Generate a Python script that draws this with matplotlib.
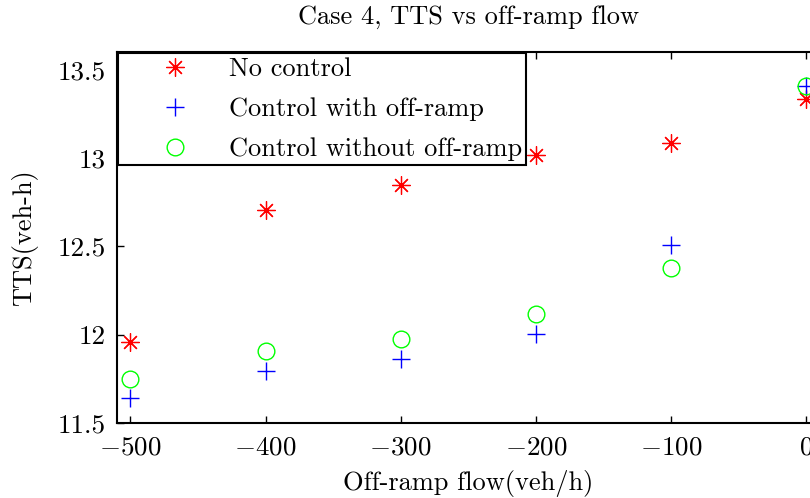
import matplotlib
matplotlib.use("Agg")
import matplotlib.pyplot as plt

# Off-ramp flow (veh/h) and total time spent (veh-h)
flow = [-500, -400, -300, -200, -100, 0]
tts_no_control = [11.958, 12.706, 12.848, 13.015, 13.085, 13.335]
tts_ctrl_offramp = [11.640, 11.795, 11.862, 12.005, 12.510, 13.405]
tts_ctrl_no_offramp = [11.748, 11.909, 11.975, 12.118, 12.379, 13.405]

series_labels = ["No control", "Control with off-ramp", "Control without off-ramp"]
xticks = [-500, -400, -300, -200, -100, 0]
yticks = [11.5, 12, 12.5, 13, 13.5]
ytick_labels = ["11.5", "12", "12.5", "13", "13.5"]

plt.rcParams["font.family"] = ["cmr10"]
plt.rcParams["mathtext.fontset"] = "cm"
plt.rcParams["axes.formatter.use_mathtext"] = True

fig = plt.figure(figsize=(8.1, 4.98), dpi=100)
ax = fig.add_axes([0.1444, 0.1506, 0.8673, 0.7450])

ax.plot(flow, tts_no_control, linestyle="none", marker=(8, 2, 0),
        markersize=13, markeredgewidth=0.9, color="#ff0000", label=series_labels[0])
ax.plot(flow, tts_ctrl_offramp, linestyle="none", marker="+",
        markersize=13, markeredgewidth=1.0, color="#0000ff", label=series_labels[1])
ax.plot(flow, tts_ctrl_no_offramp, linestyle="none", marker="o",
        markersize=12, markeredgewidth=1.0, markerfacecolor="none",
        markeredgecolor="#00ff00", color="#00ff00", label=series_labels[2])

ax.set_xlim(-510, 10)
ax.set_ylim(11.5, 13.6)
ax.set_xticks(xticks)
ax.set_xticklabels([r"$-%d$" % (-v) if v < 0 else r"$%d$" % v for v in xticks])
ax.set_yticks(yticks)
ax.set_yticklabels(ytick_labels)

ax.tick_params(direction="in", length=5, width=1.0, top=True, right=True,
               labelsize=19.5)
ax.tick_params(axis="x", pad=9)
ax.tick_params(axis="y", pad=8)
for s in ax.spines.values():
    s.set_linewidth(1.5)

ax.set_title("Case 4, TTS vs off-ramp flow", fontsize=19, pad=20)
ax.set_xlabel("Off-ramp flow(veh/h)", fontsize=19, labelpad=8)
ax.set_ylabel("TTS(veh-h)", fontsize=19, labelpad=14)

leg = ax.legend(loc="upper left", fontsize=19, frameon=True, fancybox=False,
                edgecolor="black", framealpha=1.0, borderaxespad=0.05,
                handlelength=4.0, handletextpad=0.05, labelspacing=0.62,
                borderpad=0.15)
leg.get_frame().set_linewidth(1.5)

fig.savefig("out.png", dpi=100)
